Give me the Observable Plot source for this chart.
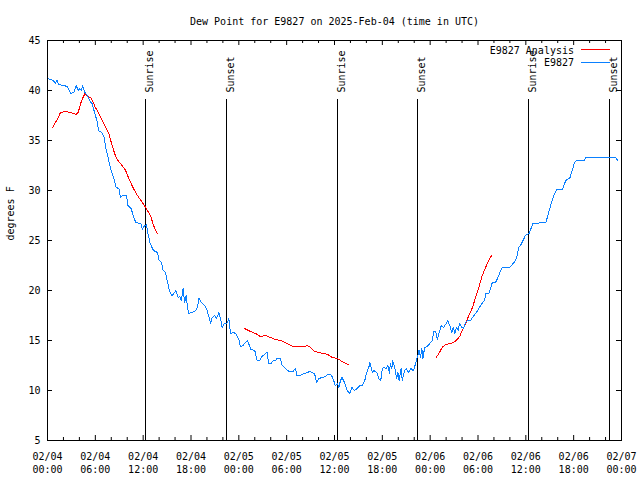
<!DOCTYPE html>
<html><head><meta charset="utf-8">
<script src="https://cdn.jsdelivr.net/npm/d3@7"></script>
<script src="https://cdn.jsdelivr.net/npm/@observablehq/plot@0.6"></script>
<style>body{margin:0;background:#fff}</style>
</head><body><div id="chart"></div>
<script>
// Observed dew point (hours since 2025-02-04 00:00 UTC, degrees F)
const obsHours = [0.0,0.4,0.7,1.0,1.2,1.4,2.0,2.5,2.9,3.3,3.6,3.85,4.05,4.26,4.4,4.7,5.0,5.4,5.6,5.9,6.2,6.4,6.8,7.1,7.3,7.6,7.9,8.3,8.6,8.95,9.15,9.45,9.9,10.1,10.5,10.8,11.1,11.7,11.9,12.1,12.4,12.6,12.85,13.1,13.3,13.8,14.0,14.3,14.5,14.8,15.0,15.3,15.6,15.85,16.1,16.4,16.6,16.8,17.0,17.2,17.4,17.5,17.7,18.15,18.6,18.8,19.0,19.4,19.7,19.95,20.2,20.45,20.65,20.95,21.2,21.5,21.7,21.9,22.2,22.5,22.75,22.95,23.3,23.6,24.0,24.2,24.55,24.8,25.1,25.5,26.0,26.3,26.6,26.9,27.35,27.55,27.75,28.05,28.3,28.6,28.8,29.2,29.45,29.85,30.3,30.8,31.1,31.3,31.7,32.15,32.6,32.9,33.2,33.5,33.75,34.05,34.45,34.9,35.1,35.5,35.7,35.9,36.1,36.35,36.55,36.75,36.95,37.25,37.6,37.9,38.2,38.5,38.85,39.2,39.5,39.8,40.0,40.3,40.45,40.75,40.9,41.3,41.55,41.8,42.0,42.2,42.5,42.7,42.9,43.0,43.2,43.3,43.55,43.8,43.95,44.1,44.35,44.5,44.8,45.0,45.3,45.6,45.85,46.0,46.3,46.45,46.6,46.8,46.95,47.1,47.3,47.6,47.95,48.25,48.45,48.7,48.9,49.1,49.4,49.7,50.0,50.2,50.5,50.7,50.9,51.1,51.3,51.5,51.7,52.0,52.2,52.45,52.7,53.05,53.5,53.8,54.1,54.5,54.8,55.0,55.35,55.6,55.8,56.2,56.5,56.75,57.05,58.0,58.3,58.7,58.9,59.1,59.4,59.65,59.95,60.4,60.7,60.9,62.5,62.7,63.0,63.3,63.6,63.9,64.6,64.85,65.1,65.5,65.7,65.95,66.1,66.35,67.3,67.5,71.25,71.55];
const obsDewF = [41.2,41.1,41.0,40.7,41.05,40.6,40.5,40.4,39.7,39.8,40.5,40.0,40.2,40.0,40.5,39.8,39.5,38.8,38.7,37.8,37.0,36.0,35.8,35.3,34.3,33.3,32.2,31.3,30.3,30.2,29.3,29.5,29.5,28.5,28.2,27.3,26.8,26.7,26.1,26.4,26.6,25.7,24.8,24.3,24.0,23.8,23.0,22.8,22.0,21.8,21.0,20.0,19.5,19.7,20.0,19.3,19.4,19.0,20.2,18.8,19.5,18.7,17.7,17.8,18.0,18.3,19.2,18.7,18.5,18.2,17.5,16.7,17.3,17.5,17.2,17.8,17.2,16.3,16.7,16.7,17.2,15.7,15.8,15.7,15.1,14.4,14.5,14.8,15.0,14.1,14.0,13.0,13.0,13.4,13.7,13.8,12.7,12.7,13.0,13.0,13.2,13.2,12.5,12.2,11.9,11.9,12.2,11.5,11.5,11.7,11.8,11.9,11.8,11.7,10.8,11.2,11.3,11.4,11.6,11.6,11.4,11.0,10.5,10.7,10.3,11.0,11.3,10.8,10.0,9.7,10.3,10.0,10.2,10.5,10.5,11.0,11.7,12.3,12.8,11.8,12.0,11.8,11.2,11.0,12.2,12.3,12.2,12.5,11.7,12.7,12.2,13.0,12.3,11.2,11.8,11.0,12.2,11.0,12.0,12.2,11.8,12.2,12.0,12.2,13.1,13.5,14.0,13.3,14.2,13.2,14.3,14.4,14.7,15.0,15.9,15.9,15.1,15.7,16.5,16.3,16.7,17.0,16.4,15.8,16.3,15.7,16.3,16.0,16.7,16.3,16.2,16.8,17.0,17.0,17.5,17.8,18.2,18.7,19.0,19.7,19.7,20.3,20.8,20.8,21.3,21.8,22.3,22.3,22.6,23.0,23.5,24.3,24.6,25.0,25.5,25.7,26.3,26.7,26.8,27.3,28.2,29.0,29.7,30.1,30.1,30.7,31.1,31.2,31.7,32.3,32.8,33.0,33.0,33.3,33.3,33.0];

// Analysis dew point (null marks a gap between runs)
const anHours = [0.67,1.0,1.35,1.63,2.26,2.9,3.6,3.85,4.15,4.45,4.7,5.0,5.4,5.7,6.0,6.45,6.85,7.3,7.7,8.0,8.3,8.6,8.85,9.35,9.8,10.2,10.6,11.05,11.45,11.9,12.3,12.7,13.05,13.2,13.75,null,
  24.7,25.45,26.1,26.7,27.35,27.97,28.6,29.2,29.85,30.5,30.9,32.15,32.6,33.0,33.5,34.05,34.65,35.15,35.7,36.35,36.95,37.7,null,
  48.75,49.1,49.5,49.9,50.55,50.95,51.4,51.7,52.0,52.45,52.85,53.3,53.7,54.1,54.5,54.95,55.35,55.7];
const anDewF = [36.3,36.8,37.3,37.8,37.9,37.8,37.6,37.8,38.7,39.3,39.7,39.4,39.3,38.9,38.3,37.7,37.0,36.3,35.7,34.8,34.0,33.3,33.0,32.5,32.0,31.2,30.5,29.8,29.3,28.8,28.3,27.8,27.2,26.7,25.7,null,
  16.2,15.9,15.7,15.4,15.5,15.3,15.1,15.0,14.8,14.5,14.4,14.4,14.5,14.3,13.9,13.8,13.7,13.6,13.3,13.2,12.9,12.6,null,
  13.3,13.7,14.3,14.6,14.7,14.8,15.1,15.4,16.0,16.7,17.5,18.3,19.3,20.3,21.4,22.3,23.0,23.5];

// Sunrise / sunset markers (hours since start)
const eventHours = [12.33, 22.5, 36.42, 46.46, 60.39, 70.55];
const eventLabels = ["Sunrise","Sunset","Sunrise","Sunset","Sunrise","Sunset"];

const yTickValues = [5,10,15,20,25,30,35,40,45];
const xMajorHours = [0,6,12,18,24,30,36,42,48,54,60,66,72];
const xMinorHours = [2,4,8,10,14,16,20,22,26,28,32,34,38,40,44,46,50,52,56,58,62,64,68,70];

const titleText = "Dew Point for E9827 on 2025-Feb-04 (time in UTC)";
const yLabelText = "degrees F";
const legendNames = ["E9827 Analysis", "E9827"];
const colorAnalysis = "#ff0000";
const colorObs = "#0a80ff";

const base = Date.UTC(2025, 1, 4);
const toTime = h => h == null ? null : new Date(base + h * 3600e3);

const obs = obsHours.map((h, i) => ({time: toTime(h), dew: obsDewF[i]}));
const an = anHours.map((h, i) => ({time: toTime(h), dew: anDewF[i]}));
const events = eventHours.map((h, i) => ({time: toTime(h), label: eventLabels[i]}));
const xMajor = xMajorHours.map(toTime);
const xMinor = xMinorHours.map(toTime);
const fmt = d3.utcFormat("%m/%d\n%H:%M");

const W = 640, H = 480, mt = 40, mr = 19, mb = 40, ml = 47;
const fw = W - ml - mr, fh = H - mt - mb;

const chart = Plot.plot({
  width: W, height: H,
  marginTop: mt, marginRight: mr, marginBottom: mb, marginLeft: ml,
  style: {fontFamily: "'DejaVu Sans Mono', monospace", fontSize: "10px", background: "#fff", color: "#000"},
  x: {type: "utc", domain: [toTime(0), toTime(72)], axis: null},
  y: {domain: [5, 45], axis: null},
  marks: [
    Plot.ruleX(events, {x: "time", insetTop: 59, stroke: "#000", shapeRendering: "crispEdges"}),
    Plot.text(events, {x: "time", text: "label", frameAnchor: "top", dy: 52, rotate: -90, textAnchor: "start", fill: "#000"}),
    Plot.line(an, {x: "time", y: "dew", stroke: colorAnalysis, strokeWidth: 1, shapeRendering: "crispEdges"}),
    Plot.line(obs, {x: "time", y: "dew", stroke: colorObs, strokeWidth: 1, shapeRendering: "crispEdges"}),
    Plot.frame({stroke: "#000", shapeRendering: "crispEdges"}),
    Plot.tickX(xMajor, {x: d => d, insetTop: fh - 5, stroke: "#000"}),
    Plot.tickX(xMajor, {x: d => d, insetBottom: fh - 5, stroke: "#000"}),
    Plot.tickX(xMinor, {x: d => d, insetTop: fh - 3, stroke: "#000"}),
    Plot.tickX(xMinor, {x: d => d, insetBottom: fh - 3, stroke: "#000"}),
    Plot.tickY(yTickValues, {y: d => d, insetRight: fw - 5, stroke: "#000"}),
    Plot.tickY(yTickValues, {y: d => d, insetLeft: fw - 5, stroke: "#000"}),
    Plot.text(yTickValues, {y: d => d, text: d => String(d), frameAnchor: "left", textAnchor: "end", dx: -7, fill: "#000"}),
    Plot.text(xMajor, {x: d => d, text: d => fmt(d), frameAnchor: "bottom", lineAnchor: "top", dy: 10, lineHeight: 1.3, fill: "#000"}),
    Plot.text([titleText], {text: d => d, frameAnchor: "top", dy: -23, fill: "#000"}),
    Plot.text([yLabelText], {text: d => d, frameAnchor: "left", dx: -37, rotate: -90, fill: "#000"})
  ]
});
document.getElementById("chart").appendChild(chart);

// Legend (top right, inside the frame)
const svg = d3.select(chart);
const lg = svg.append("g").attr("font-family", "'DejaVu Sans Mono', monospace").attr("font-size", 10);
const legendColors = [colorAnalysis, colorObs];
legendNames.forEach((name, i) => {
  const y = mt + 10 + i * 12.7;
  lg.append("text").attr("x", W - mr - 47).attr("y", y).attr("dy", "0.35em")
    .attr("text-anchor", "end").attr("fill", "#000").text(name);
  lg.append("line").attr("x1", W - mr - 40).attr("x2", W - mr - 11)
    .attr("y1", Math.round(y) - 0.5).attr("y2", Math.round(y) - 0.5)
    .attr("stroke", legendColors[i]).attr("stroke-width", 1);
});
</script>
</body></html>
